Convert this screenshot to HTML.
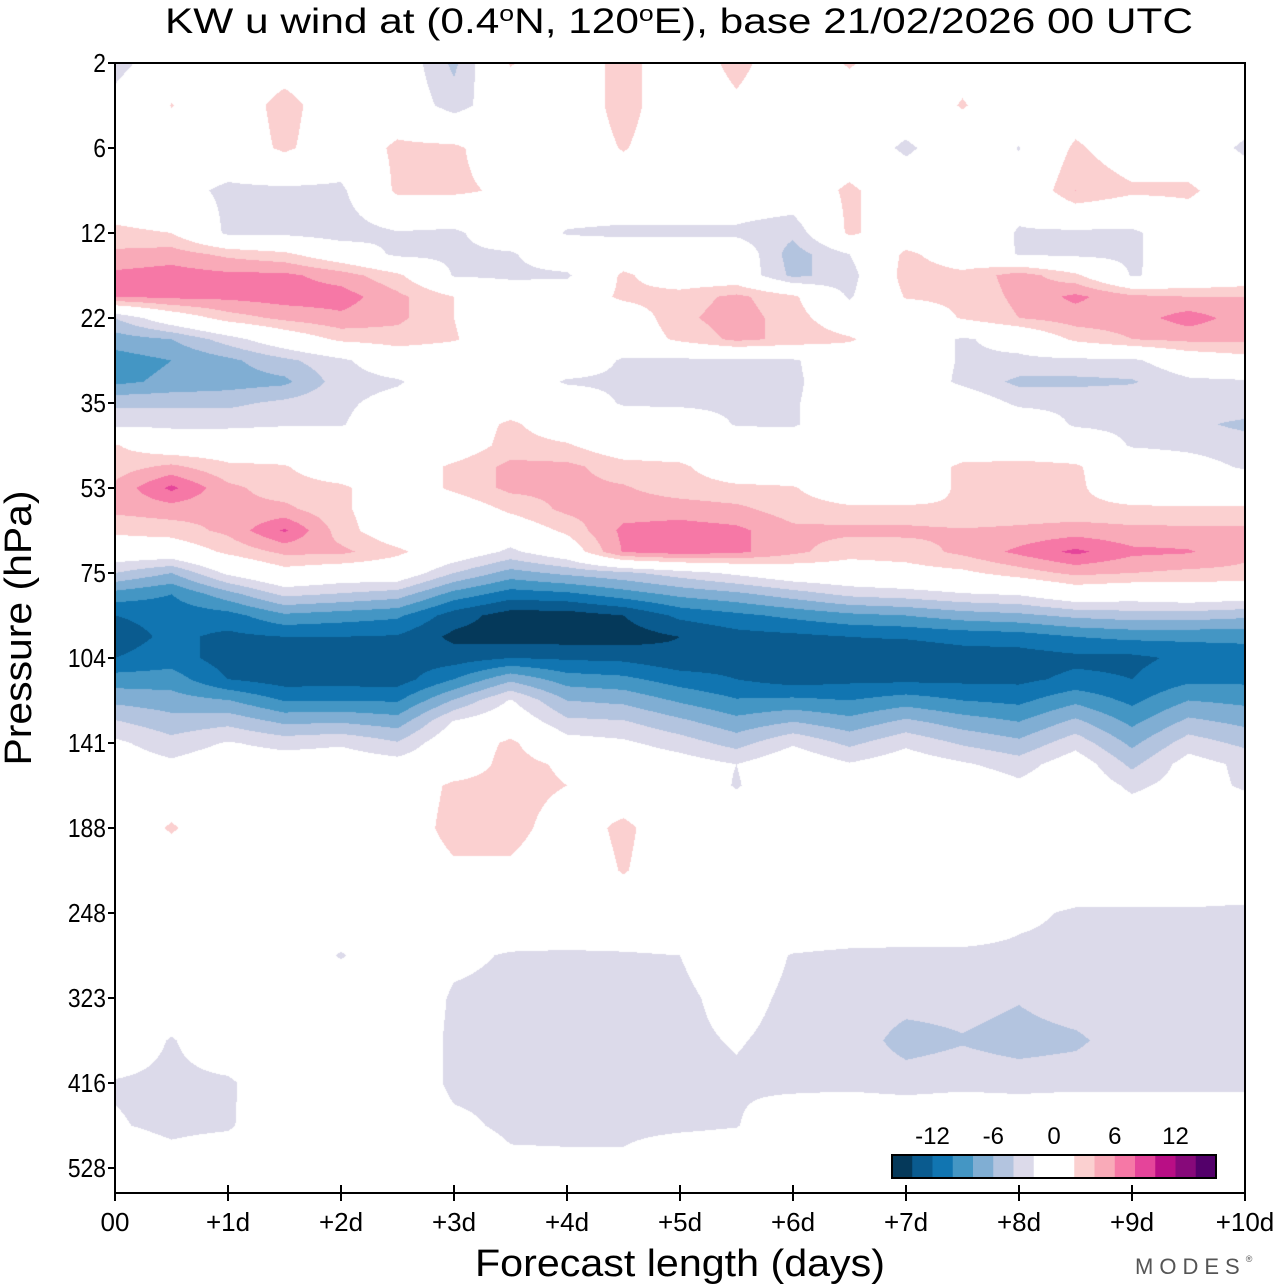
<!DOCTYPE html>
<html><head><meta charset="utf-8"><style>
html,body{margin:0;padding:0;background:#fff;}
#wrap{position:relative;width:1280px;height:1286px;overflow:hidden;font-family:"Liberation Sans",sans-serif;}
#field{position:absolute;left:115px;top:63px;}
#ov{position:absolute;left:0;top:0;}
</style></head><body>
<div id="wrap">
<canvas id="field" width="1130" height="1130"></canvas>
<svg id="ov" width="1280" height="1286"></svg>
</div>
<script>
// ---- data ----
const forecastDays = [0,0.5,1,1.5,2,2.5,3,3.5,4,4.5,5,5.5,6,6.5,7,7.5,8,8.5,9,9.5,10];
const pressureTicks = ["2","6","12","22","35","53","75","104","141","188","248","323","416","528"];
const dayTicks = ["00","+1d","+2d","+3d","+4d","+5d","+6d","+7d","+8d","+9d","+10d"];
const cbarTicks = [-12,-6,0,6,12];
const levelBounds = [-14,-12,-10,-8,-6,-4,-2,2,4,6,8,10,12,14];
const levelIndex = [0,0.5,1,1.5,2,2.25,2.5,2.75,3,3.25,3.5,3.75,4,4.25,4.5,4.75,5,5.25,5.5,5.75,6,6.25,6.5,6.75,7,7.25,7.5,7.75,8,8.25,8.5,9,9.5,10,10.5,11,11.5,12,12.5,13,13.5];
const uWind = [
[-3,0,0,0.5,0,0,-4.5,2.2,0,3,0,2.8,0,2.3,0,1,0,0,-1,0,0],
[-1,2.1,0,3,0,0,-3,0,0,3,0,1.5,0,0,0,2.2,0,0,0,0,0],
[0,0,0,2.5,0,2.5,2.5,0,0,2.2,0,0,0,0,-2.5,0,-2.1,2.5,0,0,-2.5],
[0,-1,-2.5,-2.5,-2.5,2.5,2.5,1.5,0,0,0,0,0,2.5,0,0,-1,4,2.5,2.5,0],
[2.5,2,-2.5,-2.5,-3.2,-2.2,-2.5,0,-2.2,-2.5,-2.5,-2.5,-3.5,2.5,0,0,-2.2,-2.5,-2.5,0,0],
[4.5,5,3.5,2.5,0,-2.5,-2.5,-2.3,0,0,0,0,-5,-2,2.5,0.5,-2.2,-2.5,-2.5,0,0],
[6.5,7,6.5,6.5,5,2.5,-2.2,-2.5,-2.4,2.5,0,0,-4.5,-3,3,2.5,5,2.5,-2.2,-1,0],
[6,6.5,6.5,7,7,4.5,2,0,0,2.5,3,4.5,2.5,-2.3,2.2,2.5,4.5,6.5,4.5,4,4],
[-4,0,3,4.5,5.5,4.5,2,0,0,0,3.5,5,3,0,0,2.2,4,5,5,7,5],
[-7,-6,-3,0,2.5,3,2.2,0,0,0,2.5,4.5,3.5,2.3,0,-2.3,-1,2.5,4,4.5,4.5],
[-9,-8,-6.5,-4.5,-2.5,0,0,0,0,-2.3,-2.5,-2.5,-2.3,0,0,-2.3,-2.5,-2.5,-2.5,0,1],
[-8.5,-7.5,-7,-6.5,-3,-2.3,0,0,-2.3,-2.5,-2.5,-2.6,-2.5,0,0,-2.5,-4.5,-4.5,-4.2,-2.5,-2.3],
[-4.5,-4.5,-4.5,-3.5,-2.5,-1,0,0,0,-2.3,-2.5,-2.5,-2.3,0,0,0,-2.5,-2.5,-2.5,-2.5,-2.5],
[-2.5,-2.5,-2.5,-2.2,-2.2,0,0,2.5,0,0,0,-2.2,-2.3,0,0,0,0,-2.3,-2.5,-3.5,-4.5],
[2.2,0,0,0,0,0,0,3,2.3,0,0,0,0,0,0,0,0,0,-2.2,-2.5,-3],
[3,4.5,2.5,2.2,0,0,2.5,4.5,4.5,3,2.5,0,0,0,0,2.5,2.8,2.3,0,-1,-2.3],
[4.5,8.5,4.5,3,2.5,0,2.5,4.5,4.5,4.2,3,2.5,2.2,0,0,2.5,3,2.5,0,0,0],
[4.5,5,4.5,4.5,2.5,0,0,2.5,4.5,5,5,4.5,3,2.5,2.5,2.2,2.5,2.6,2.5,2.3,2.3],
[2.5,3,4.5,8.3,3,0,0,0,2.5,6.5,7,6.5,4.5,4.5,4.5,4.2,4.5,5,4.5,4.5,4.5],
[0,0,2.5,4.5,4.5,2.5,0,-2.5,0,6.2,7,6.5,4.5,2.8,3,4.5,6.5,8.5,6.5,6.2,4.5],
[-4,-6,-1.5,1,0,0,-4,-6.8,-5.5,-4.5,-3,-1.5,0,0.5,1,1.5,3,4.5,4,3.5,3.5],
[-8.8,-10,-6.8,-3.5,-4.2,-5,-8.8,-11,-10.5,-9,-7.5,-6.5,-5,-3.5,-3,-2.2,-1.8,0,-0.5,0,-0.5],
[-12,-11.3,-10.8,-8.4,-9,-9.6,-13,-15,-15,-14,-11.5,-10.5,-9.5,-8.5,-8,-7,-6.5,-5.5,-5,-5,-5.5],
[-13,-11.5,-12.5,-12,-12,-12.2,-14.5,-15,-15,-15,-14,-12.8,-12.5,-12,-11.8,-11.3,-11,-10,-9.5,-9.5,-9.5],
[-12,-11,-13,-13.5,-13.5,-13,-13,-12,-12.3,-12.5,-13.5,-13,-13.5,-13,-13.5,-13,-13,-12.5,-12.5,-11.5,-11],
[-9.1,-9,-12,-13,-13,-13,-10,-6.5,-9,-9.5,-11,-12,-13,-12.5,-12.5,-12.5,-12.5,-11.5,-12,-10.5,-10.5],
[-6.5,-7.1,-7.9,-10.1,-10,-10.2,-5.8,-1.8,-6,-6.5,-8.3,-9.8,-9.5,-10,-9,-10,-10.5,-8.5,-10.5,-8,-8.5],
[-3.8,-5.2,-4.6,-6.4,-6.2,-7,-1.8,0,-3.5,-3.8,-5.5,-7.3,-6,-7.3,-5.5,-7,-8,-5.5,-8.5,-5.5,-6.5],
[-1.5,-3.3,-1.8,-2.8,-2.3,-3.8,0,2.5,-1,-1.6,-3,-4.8,-2.3,-4.5,-2.5,-4.3,-5.5,-2.8,-6.5,-3,-4.5],
[-0.5,-1.5,-0.3,-0.5,-0.5,-1,0,3,1.5,0,-0.8,-2,0,-1.8,-0.5,-1.7,-3,-0.5,-4.5,-1,-2.5],
[0,0,0,0,0,0,2.5,3,2,0,0,-2.2,0,0,0,0,-1.5,0,-2.5,-1,-2.3],
[0,2.3,0,0,0,0,3,3,0.5,2.6,0,0,0,0,0,0,0,0,0,0,0],
[0,0,0,0,0,0,1.5,1.5,0,2.2,0,0,0,0,0,0,0,0,0,0,0],
[0,0,0,0,0,0,0,0,0,0,0,0,0,0,0,0,-1.5,-2.3,-2.3,-2.3,-2.5],
[0,0,0,0,-2.2,0,-1.5,-2.2,-2.3,-2.2,-2,-1,-2.1,-2.4,-2.5,-2.5,-2.5,-2.5,-2.5,-2.5,-2.5],
[0,0,0,0,0,0,-2.3,-2.5,-2.5,-2.5,-2.3,-1.5,-2.3,-2.5,-3,-3,-3.8,-2.5,-2.5,-2.5,-2.5],
[0,-2.2,0,0,0,0,-2.5,-2.5,-2.5,-2.5,-2.3,-1.9,-2.4,-2.5,-5,-4.2,-5,-4.5,-2.5,-2.5,-2.5],
[-2.2,-2.6,-2.4,0,0,0,-2.5,-2.5,-2.5,-2.5,-2.5,-2.2,-2.5,-2.5,-2.8,-2.5,-2.7,-2.5,-2.5,-2.5,-2.5],
[-1.8,-2.5,-2.3,0,0,0,-1.5,-2.4,-2.5,-2.5,-2.4,-2.1,-0.5,0,0,0,0,0,0,0,0],
[0,-1,0,0,0,0,0,-1.5,-1.5,-1.5,0,0,0,0,0,0,0,0,0,0,0],
[0,0,0,0,0,0,0,0,0,0,0,0,0,0,0,2.5,3,2.6,2.2,0,0]
];
const palette = ["#05395a","#0a5b8f","#1175b1","#4496c4","#80aed3","#b3c4df","#dcdaea","#ffffff","#fbd0d0","#f9aab8","#f678a6","#e5449a","#b90e85","#87097a","#53006a"];

// ---- geometry ----
const X0=115, Y0=63, W=1130, H=1130, TICK=85, DAYPX=113;
const xOf = d => X0 + d*DAYPX;
const yOf = li => Y0 + li*TICK;
function colorIdx(v){let k=0;while(k<levelBounds.length && v>=levelBounds[k])k++;return k;}
function hex(c){return [parseInt(c.substr(1,2),16),parseInt(c.substr(3,2),16),parseInt(c.substr(5,2),16)];}
const rgb = palette.map(hex);

// ---- field ----
(function(){
  const cv=document.getElementById('field'), ctx=cv.getContext('2d');
  const img=ctx.createImageData(W,H), px=img.data;
  const nR=levelIndex.length, nC=forecastDays.length;
  for(let py=0;py<H;py++){
    const li=(py+0.5)/TICK;
    let r=0; while(r<nR-2 && levelIndex[r+1]<li) r++;
    let fy=(li-levelIndex[r])/(levelIndex[r+1]-levelIndex[r]); fy=Math.max(0,Math.min(1,fy));
    for(let pxl=0;pxl<W;pxl++){
      const d=(pxl+0.5)/DAYPX;
      let c=0; while(c<nC-2 && forecastDays[c+1]<d) c++;
      let fx=(d-forecastDays[c])/(forecastDays[c+1]-forecastDays[c]); fx=Math.max(0,Math.min(1,fx));
      const v=(uWind[r][c]*(1-fx)+uWind[r][c+1]*fx)*(1-fy)+(uWind[r+1][c]*(1-fx)+uWind[r+1][c+1]*fx)*fy;
      const col=rgb[colorIdx(v)], o=(py*W+pxl)*4;
      px[o]=col[0];px[o+1]=col[1];px[o+2]=col[2];px[o+3]=255;
    }
  }
  ctx.putImageData(img,0,0);
})();

// ---- overlay ----
const NS='http://www.w3.org/2000/svg', svg=document.getElementById('ov');
function mk(tag,attrs,parent){const e=document.createElementNS(NS,tag);for(const k in attrs)e.setAttribute(k,attrs[k]);(parent||svg).appendChild(e);return e;}

const frame=mk('rect',{x:X0,y:Y0,width:W,height:H,fill:'none',stroke:'#000','stroke-width':2});



pressureTicks.forEach((lab,i)=>{
  const y=yOf(i);
  const t=mk('line',{x1:X0-7,x2:X0,y1:y,y2:y,stroke:'#000','stroke-width':2});
  
  
  const tx=mk('text',{x:X0-9,y:y+9,'text-anchor':'end','font-size':26,fill:'#000',transform:'translate('+(X0-9)*0.12+',0) scale(0.88,1)'});
  tx.textContent=lab;
  
  
});
dayTicks.forEach((lab,i)=>{
  const x=xOf(i);
  const t=mk('line',{x1:x,x2:x,y1:Y0+H-8,y2:Y0+H+8,stroke:'#000','stroke-width':2});
  
  
  const tx=mk('text',{x:x,y:1231,'text-anchor':'middle','font-size':26,fill:'#000'});
  tx.textContent=lab;
  
  
});

const title=mk('text',{x:679,y:33,'text-anchor':'middle','font-size':35,fill:'#000',textLength:1028,lengthAdjust:'spacingAndGlyphs'});
title.innerHTML='KW u wind at (0.4<tspan dy="-12" font-size="22">o</tspan><tspan dy="12">N, 120</tspan><tspan dy="-12" font-size="22">o</tspan><tspan dy="12">E),  base 21/02/2026  00 UTC</tspan>';
title.setAttribute('xml:space','preserve');



const xt=mk('text',{x:680,y:1276,'text-anchor':'middle','font-size':38,fill:'#000',textLength:410,lengthAdjust:'spacingAndGlyphs'});
xt.textContent='Forecast length (days)';



const yt=mk('text',{x:0,y:0,'text-anchor':'middle','font-size':38,fill:'#000',textLength:275,lengthAdjust:'spacingAndGlyphs',transform:'translate(31,628) rotate(-90)'});
yt.textContent='Pressure (hPa)';



const logo=mk('text',{x:1135,y:1274,'font-size':22,fill:'#555','letter-spacing':'6'});
logo.innerHTML='MODES<tspan font-size="9" dy="-12">®</tspan>';



// colorbar
const CB0=892, CBW=324, CBY=1155, CBH=23;
const slot=CBW/16;
const cbOf = v => CB0 + (v+16)/2*slot;
const cbEdges=[-16].concat(levelBounds).concat([16]);
for(let k=0;k<palette.length;k++){
  const a=cbOf(cbEdges[k]), b=cbOf(cbEdges[k+1]);
  const r=mk('rect',{x:a,y:CBY,width:b-a+0.5,height:CBH,fill:palette[k]});
  
  
}
const cbf=mk('rect',{x:CB0,y:CBY,width:CBW,height:CBH,fill:'none',stroke:'#000','stroke-width':2});


cbarTicks.forEach(v=>{
  const tx=mk('text',{x:cbOf(v),y:1144,'text-anchor':'middle','font-size':24,fill:'#000'});
  tx.textContent=String(v);
  
  
});
</script>
</body></html>
